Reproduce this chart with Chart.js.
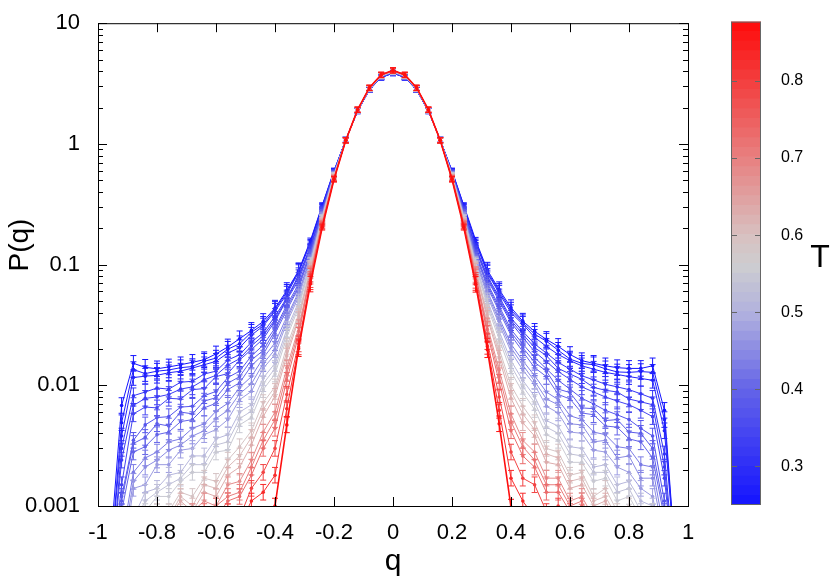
<!DOCTYPE html>
<html lang="en">
<head>
<meta charset="UTF-8">
<title>P(q) vs q</title>
<script src="https://cdn.jsdelivr.net/npm/chart.js"></script>
<style>
  body { margin: 0; background: #fff; }
  .wrap { position: relative; width: 830px; height: 583px; }
  #main { position: absolute; left: 0; top: 0; }
  #cbar { position: absolute; left: 700px; top: 0; }
</style>
</head>
<body>
<div class="wrap">
  <canvas id="main" width="830" height="583"></canvas>
  <canvas id="cbar" width="130" height="583"></canvas>
</div>
<script>
// overlap values q, one column per point
const qValues = [-0.96, -0.92, -0.88, -0.84, -0.80, -0.76, -0.72, -0.68, -0.64, -0.60, -0.56, -0.52, -0.48, -0.44, -0.40, -0.36, -0.32, -0.28, -0.24, -0.20, -0.16, -0.12, -0.08, -0.04,
  0, 0.04, 0.08, 0.12, 0.16, 0.20, 0.24, 0.28, 0.32, 0.36, 0.40, 0.44, 0.48, 0.52, 0.56, 0.60, 0.64, 0.68, 0.72, 0.76, 0.80, 0.84, 0.88, 0.92, 0.96];

const temperatures = [0.25, 0.265, 0.28, 0.31, 0.325, 0.34, 0.37, 0.385, 0.40, 0.43, 0.45, 0.47, 0.51, 0.53, 0.55, 0.59, 0.61, 0.63, 0.68, 0.705, 0.73, 0.79, 0.83, 0.87];

// P(q) for each temperature (null = below the plotted range)
const p250 = [0.0004, 0.0068, 0.0152, 0.0141, 0.0137, 0.0142, 0.0148, 0.0155, 0.0163, 0.0182, 0.0208, 0.0243, 0.0285, 0.0338, 0.0436, 0.061, 0.089, 0.158, 0.31, 0.6, 1.08, 1.87, 2.8, 3.55,
  3.85, 3.55, 2.8, 1.87, 1.08, 0.6, 0.31, 0.16, 0.09, 0.062, 0.044, 0.034, 0.028, 0.024, 0.021, 0.018, 0.016, 0.0152, 0.0145, 0.014, 0.0138, 0.0138, 0.0145, 0.0062, 0.0003];
const p265 = [0.0003, 0.0049, 0.0135, 0.0125, 0.0131, 0.0134, 0.014, 0.0143, 0.0158, 0.0168, 0.0199, 0.0221, 0.0275, 0.032, 0.0425, 0.059, 0.088, 0.154, 0.305, 0.595, 1.08, 1.87, 2.8, 3.55,
  3.86, 3.55, 2.8, 1.87, 1.08, 0.595, 0.305, 0.155, 0.087, 0.06, 0.042, 0.033, 0.0265, 0.0232, 0.0195, 0.0165, 0.0152, 0.0148, 0.0137, 0.0129, 0.0128, 0.013, 0.0128, 0.0052, 0.0003];
const p280 = [0.0003, 0.0038, 0.0116, 0.0119, 0.0121, 0.0127, 0.0131, 0.0139, 0.0148, 0.0158, 0.0185, 0.0205, 0.026, 0.031, 0.041, 0.057, 0.086, 0.15, 0.30, 0.59, 1.08, 1.87, 2.81, 3.56,
  3.87, 3.56, 2.81, 1.87, 1.08, 0.59, 0.30, 0.151, 0.085, 0.058, 0.040, 0.032, 0.025, 0.021, 0.018, 0.016, 0.0145, 0.0136, 0.0128, 0.0123, 0.0118, 0.0114, 0.011, 0.0042, 0.0003];
const p310 = [0.0002, 0.003, 0.0082, 0.0088, 0.0095, 0.0093, 0.0106, 0.0108, 0.0124, 0.0131, 0.0162, 0.0179, 0.0228, 0.0273, 0.0372, 0.053, 0.081, 0.141, 0.292, 0.585, 1.08, 1.88, 2.82, 3.58,
  3.88, 3.58, 2.82, 1.88, 1.08, 0.585, 0.292, 0.142, 0.08, 0.054, 0.036, 0.028, 0.022, 0.0185, 0.0155, 0.0136, 0.012, 0.0111, 0.0102, 0.0097, 0.0092, 0.0085, 0.0078, 0.0027, 0.0002];
const p325 = [0.0002, 0.0024, 0.0068, 0.0078, 0.008, 0.0084, 0.0093, 0.0097, 0.0111, 0.0121, 0.0147, 0.0166, 0.0212, 0.0258, 0.0352, 0.052, 0.078, 0.138, 0.288, 0.583, 1.08, 1.88, 2.82, 3.58,
  3.89, 3.58, 2.82, 1.88, 1.08, 0.583, 0.288, 0.138, 0.0775, 0.052, 0.0345, 0.0265, 0.0205, 0.0176, 0.0138, 0.0124, 0.0112, 0.0096, 0.0091, 0.0088, 0.0077, 0.0073, 0.0069, 0.0021, 0.0002];
const p340 = [0.0002, 0.0015, 0.0058, 0.0066, 0.0065, 0.0078, 0.0077, 0.0092, 0.0094, 0.0118, 0.0125, 0.0162, 0.0198, 0.0242, 0.034, 0.051, 0.074, 0.135, 0.283, 0.58, 1.08, 1.88, 2.83, 3.59,
  3.9, 3.59, 2.83, 1.88, 1.08, 0.58, 0.283, 0.134, 0.075, 0.05, 0.033, 0.025, 0.019, 0.0157, 0.013, 0.0112, 0.0097, 0.0088, 0.008, 0.0074, 0.0069, 0.0062, 0.0055, 0.0017, 0.0002];
const p370 = [0.0001, 0.0012, 0.0035, 0.0047, 0.0054, 0.0055, 0.0066, 0.0067, 0.0082, 0.0089, 0.0116, 0.0131, 0.0175, 0.0215, 0.0298, 0.046, 0.069, 0.127, 0.275, 0.57, 1.08, 1.89, 2.84, 3.61,
  3.92, 3.61, 2.84, 1.89, 1.08, 0.57, 0.275, 0.126, 0.07, 0.045, 0.029, 0.022, 0.017, 0.0137, 0.011, 0.0093, 0.0078, 0.007, 0.0062, 0.0057, 0.0052, 0.0044, 0.0038, 0.0011, 0.0001];
const p385 = [0.0001, 0.0011, 0.0033, 0.0037, 0.0048, 0.0046, 0.006, 0.0058, 0.0074, 0.0079, 0.0104, 0.0118, 0.0162, 0.0194, 0.0285, 0.044, 0.066, 0.124, 0.272, 0.568, 1.08, 1.89, 2.84, 3.61,
  3.92, 3.61, 2.84, 1.89, 1.08, 0.568, 0.272, 0.123, 0.0675, 0.043, 0.0275, 0.0205, 0.0155, 0.0131, 0.0093, 0.0087, 0.0065, 0.0064, 0.0051, 0.0052, 0.0041, 0.004, 0.003, 0.0009, 0.0001];
const p400 = [0.0001, 0.0009, 0.0028, 0.0031, 0.0039, 0.0041, 0.005, 0.0052, 0.0065, 0.0071, 0.0092, 0.0105, 0.0145, 0.018, 0.0268, 0.042, 0.064, 0.121, 0.268, 0.565, 1.08, 1.89, 2.84, 3.62,
  3.93, 3.62, 2.84, 1.89, 1.08, 0.565, 0.268, 0.12, 0.065, 0.041, 0.026, 0.019, 0.014, 0.0118, 0.0084, 0.0077, 0.0059, 0.0057, 0.0046, 0.0045, 0.0036, 0.0034, 0.0025, 0.0008, 0.0001];
const p430 = [null, 0.0005, 0.0019, 0.0025, 0.0028, 0.0034, 0.0036, 0.0044, 0.0048, 0.0061, 0.0071, 0.0096, 0.0118, 0.0168, 0.0225, 0.037, 0.059, 0.115, 0.261, 0.56, 1.08, 1.89, 2.85, 3.63,
  3.95, 3.63, 2.85, 1.89, 1.08, 0.56, 0.261, 0.114, 0.06, 0.036, 0.022, 0.016, 0.012, 0.0088, 0.0076, 0.0056, 0.0052, 0.0041, 0.0039, 0.0031, 0.003, 0.0022, 0.0021, 0.0006, null];
const p450 = [null, 0.0004, 0.0016, 0.0021, 0.0024, 0.0029, 0.0032, 0.0038, 0.0042, 0.0053, 0.0062, 0.0085, 0.0103, 0.0151, 0.0198, 0.035, 0.057, 0.112, 0.258, 0.558, 1.08, 1.9, 2.85, 3.64,
  3.955, 3.64, 2.85, 1.9, 1.08, 0.558, 0.258, 0.11, 0.0575, 0.034, 0.0205, 0.0147, 0.0108, 0.0077, 0.0069, 0.0048, 0.0047, 0.0034, 0.0035, 0.0025, 0.0026, 0.0017, 0.0017, 0.0005, null];
const p470 = [null, 0.0003, 0.0014, 0.0015, 0.0022, 0.0022, 0.0029, 0.003, 0.0039, 0.0043, 0.0052, 0.0076, 0.0089, 0.0138, 0.018, 0.033, 0.054, 0.108, 0.254, 0.555, 1.08, 1.9, 2.86, 3.65,
  3.96, 3.65, 2.86, 1.9, 1.08, 0.555, 0.254, 0.107, 0.055, 0.032, 0.019, 0.0134, 0.0101, 0.0067, 0.0059, 0.0041, 0.004, 0.0029, 0.0028, 0.0021, 0.0019, 0.0014, 0.0012, 0.0004, null];
const p510 = [null, 0.0004, 0.0008, 0.0013, 0.0014, 0.0018, 0.0019, 0.0026, 0.0026, 0.0036, 0.0039, 0.006, 0.0069, 0.0115, 0.0152, 0.029, 0.049, 0.103, 0.248, 0.55, 1.08, 1.9, 2.86, 3.66,
  3.98, 3.66, 2.86, 1.9, 1.08, 0.55, 0.248, 0.102, 0.05, 0.028, 0.016, 0.011, 0.0081, 0.0051, 0.0046, 0.0031, 0.003, 0.0021, 0.0022, 0.0015, 0.0016, 0.0011, 0.001, 0.0003, null];
const p530 = [null, 0.0003, 0.0007, 0.0011, 0.0013, 0.0015, 0.0017, 0.0022, 0.0022, 0.0032, 0.0034, 0.0053, 0.0061, 0.0103, 0.0138, 0.027, 0.0465, 0.1, 0.245, 0.548, 1.075, 1.9, 2.865, 3.665,
  3.985, 3.665, 2.865, 1.9, 1.075, 0.548, 0.245, 0.0995, 0.0475, 0.026, 0.0145, 0.0098, 0.0072, 0.0045, 0.004, 0.0027, 0.0026, 0.0019, 0.0019, 0.0013, 0.0014, 0.0009, 0.0009, 0.0003, null];
const p550 = [null, null, 0.0006, 0.0009, 0.0012, 0.0012, 0.0016, 0.0019, 0.0019, 0.0028, 0.0029, 0.0047, 0.0054, 0.0092, 0.0124, 0.025, 0.044, 0.098, 0.242, 0.545, 1.07, 1.9, 2.87, 3.67,
  3.99, 3.67, 2.87, 1.9, 1.07, 0.545, 0.242, 0.097, 0.045, 0.024, 0.013, 0.0087, 0.0063, 0.0039, 0.0035, 0.0023, 0.0023, 0.0016, 0.0017, 0.0011, 0.0012, 0.0008, 0.0009, 0.0004, null];
const p590 = [null, null, null, 0.0007, 0.0009, 0.0009, 0.0013, 0.0012, 0.0017, 0.0016, 0.0024, 0.0031, 0.0042, 0.0072, 0.0097, 0.021, 0.039, 0.093, 0.235, 0.54, 1.07, 1.91, 2.88, 3.68,
  4.0, 3.68, 2.88, 1.91, 1.07, 0.54, 0.235, 0.092, 0.04, 0.02, 0.01, 0.0067, 0.0049, 0.003, 0.0028, 0.0018, 0.0019, 0.0012, 0.0014, 0.0009, 0.001, 0.0006, null, null, null];
const p610 = [null, null, null, null, 0.0007, 0.0008, 0.0012, 0.001, 0.0015, 0.0014, 0.0021, 0.0026, 0.0037, 0.0063, 0.0089, 0.019, 0.037, 0.091, 0.232, 0.535, 1.07, 1.91, 2.885, 3.69,
  4.01, 3.69, 2.885, 1.91, 1.07, 0.535, 0.232, 0.09, 0.038, 0.0183, 0.0089, 0.0058, 0.0043, 0.0027, 0.0025, 0.0016, 0.0017, 0.0011, 0.0012, 0.0008, 0.0008, null, null, null, null];
const p630 = [null, null, null, null, null, 0.0008, 0.0011, 0.0009, 0.0013, 0.0012, 0.0018, 0.0021, 0.0032, 0.0055, 0.0081, 0.0175, 0.035, 0.089, 0.229, 0.53, 1.07, 1.91, 2.89, 3.7,
  4.02, 3.7, 2.89, 1.91, 1.07, 0.53, 0.229, 0.088, 0.036, 0.0168, 0.0078, 0.0049, 0.0038, 0.0023, 0.0022, 0.0014, 0.0015, 0.001, 0.0011, 0.0007, null, null, null, null, null];
const p680 = [null, null, null, null, null, null, 0.0007, 0.0009, 0.0011, 0.001, 0.0015, 0.0016, 0.0024, 0.0041, 0.006, 0.0139, 0.030, 0.084, 0.223, 0.525, 1.07, 1.91, 2.9, 3.71,
  4.03, 3.71, 2.9, 1.91, 1.07, 0.525, 0.223, 0.083, 0.031, 0.0134, 0.0058, 0.0035, 0.0028, 0.0017, 0.0017, 0.0011, 0.0012, 0.0008, null, null, null, null, null, null, null];
const p705 = [null, null, null, null, null, null, null, 0.0008, 0.0007, 0.001, 0.0012, 0.0013, 0.0021, 0.0035, 0.0052, 0.0125, 0.028, 0.082, 0.22, 0.522, 1.07, 1.915, 2.905, 3.715,
  4.035, 3.715, 2.905, 1.915, 1.07, 0.522, 0.22, 0.081, 0.029, 0.012, 0.005, 0.0031, 0.0024, 0.0015, 0.0015, 0.001, 0.0011, 0.0007, null, null, null, null, null, null, null];
const p730 = [null, null, null, null, null, null, null, 0.0007, 0.0009, 0.0008, 0.0011, 0.0012, 0.0018, 0.003, 0.0044, 0.011, 0.026, 0.08, 0.217, 0.52, 1.07, 1.92, 2.91, 3.72,
  4.04, 3.72, 2.91, 1.92, 1.07, 0.52, 0.217, 0.079, 0.027, 0.0106, 0.0042, 0.0026, 0.0021, 0.0013, 0.0013, 0.0009, 0.001, 0.0006, null, null, null, null, null, null, null];
const p790 = [null, null, null, null, null, null, null, null, null, 0.0006, 0.0009, 0.0008, 0.0014, 0.0019, 0.003, 0.0084, 0.022, 0.075, 0.211, 0.515, 1.07, 1.92, 2.91, 3.73,
  4.05, 3.73, 2.91, 1.92, 1.07, 0.515, 0.211, 0.074, 0.023, 0.008, 0.0028, 0.0017, 0.0015, 0.0009, 0.001, 0.0006, null, null, null, null, null, null, null, null, null];
const p830 = [null, null, null, null, null, null, null, null, null, null, null, 0.0007, 0.0011, 0.0013, 0.0018, 0.0064, 0.0208, 0.072, 0.207, 0.511, 1.07, 1.92, 2.915, 3.735,
  4.06, 3.735, 2.915, 1.92, 1.07, 0.511, 0.207, 0.071, 0.021, 0.0062, 0.0017, 0.0011, 0.0008, null, null, null, null, null, null, null, null, null, null, null, null];
const p870 = [null, null, null, null, null, null, null, null, null, null, null, null, null, 0.00018, 0.001, 0.0047, 0.0201, 0.069, 0.203, 0.507, 1.07, 1.92, 2.92, 3.74,
  4.07, 3.74, 2.92, 1.92, 1.07, 0.507, 0.203, 0.0686, 0.0197, 0.0048, 0.00098, 0.00017, null, null, null, null, null, null, null, null, null, null, null, null, null];

const series = [p250, p265, p280, p310, p325, p340, p370, p385, p400, p430, p450, p470, p510, p530, p550, p590, p610, p630, p680, p705, p730, p790, p830, p870];

const yTicks = [0.001, 0.01, 0.1, 1, 10];
const cbTicks = [0.3, 0.4, 0.5, 0.6, 0.7, 0.8];
const cbMin = 0.25, cbMax = 0.877;

const FONT = '"Liberation Sans", Arial, Helvetica, sans-serif';

// blue - grey - red palette, [T, r, g, b]
const colorStops = [
  [0.25, 20, 20, 255],
  [0.40, 100, 100, 232],
  [0.50, 178, 178, 222],
  [0.56, 205, 205, 208],
  [0.60, 216, 192, 192],
  [0.70, 232, 128, 128],
  [0.80, 243, 62, 62],
  [0.877, 255, 10, 10]
];
function tColor(t) {
  let i = 0;
  while (i < colorStops.length - 2 && t > colorStops[i + 1][0]) i++;
  const a = colorStops[i], b = colorStops[i + 1];
  let f = (t - a[0]) / (b[0] - a[0]);
  f = Math.max(0, Math.min(1, f));
  const c = [1, 2, 3].map(k => Math.round(a[k] + f * (b[k] - a[k])));
  return `rgb(${c[0]},${c[1]},${c[2]})`;
}

// error bars, drawn with each dataset so the layering follows the lines
const errorBars = {
  id: 'errorBars',
  afterDatasetDraw(chart, args) {
    const { ctx, chartArea } = chart;
    const ys = chart.scales.y;
    const ds = chart.data.datasets[args.index];
    ctx.save();
    ctx.beginPath();
    ctx.rect(chartArea.left, chartArea.top, chartArea.right - chartArea.left, chartArea.bottom - chartArea.top);
    ctx.clip();
    ctx.strokeStyle = ds.borderColor;
    ctx.lineWidth = 1;
    ctx.beginPath();
    args.meta.data.forEach((pt, j) => {
      const v = ds.data[j].y;
      if (v == null || v < 0.0008) return;
      const rel = v >= 0.1 ? 0.05 : 0.16;
      const y1 = ys.getPixelForValue(v * (1 + rel));
      const y2 = ys.getPixelForValue(v / (1 + rel));
      ctx.moveTo(pt.x, y1); ctx.lineTo(pt.x, y2);
      ctx.moveTo(pt.x - 3, y1); ctx.lineTo(pt.x + 3, y1);
      ctx.moveTo(pt.x - 3, y2); ctx.lineTo(pt.x + 3, y2);
    });
    ctx.stroke();
    ctx.restore();
  }
};

// frame, inward ticks (mirrored) and axis titles
const frame = {
  id: 'frame',
  afterDraw(chart) {
    const { ctx, chartArea: a } = chart;
    const xs = chart.scales.x, ys = chart.scales.y;
    ctx.save();
    ctx.strokeStyle = '#000';
    ctx.lineWidth = 1;
    ctx.strokeRect(a.left + 0.5, a.top + 0.5, a.right - a.left, a.bottom - a.top);
    ctx.beginPath();
    for (let d = -3; d <= 1; d++) {
      for (let m = 1; m <= 9; m++) {
        const v = m * Math.pow(10, d);
        if (v < 0.001 || v > 10) continue;
        const y = Math.round(ys.getPixelForValue(v)) + 0.5;
        const len = m === 1 ? 9 : 5;
        ctx.moveTo(a.left, y); ctx.lineTo(a.left + len, y);
        ctx.moveTo(a.right, y); ctx.lineTo(a.right - len, y);
      }
    }
    for (let k = -5; k <= 5; k++) {
      const x = Math.round(xs.getPixelForValue(k * 0.2)) + 0.5;
      ctx.moveTo(x, a.bottom); ctx.lineTo(x, a.bottom - 9);
      ctx.moveTo(x, a.top); ctx.lineTo(x, a.top + 9);
    }
    ctx.stroke();
    ctx.fillStyle = '#000';
    ctx.textAlign = 'center';
    ctx.textBaseline = 'middle';
    ctx.font = '30px ' + FONT;
    ctx.fillText('q', (a.left + a.right) / 2, 562);
    ctx.translate(20, 245);
    ctx.rotate(-Math.PI / 2);
    ctx.font = '28px ' + FONT;
    ctx.fillText('P(q)', 0, 0);
    ctx.restore();
  }
};

const datasets = temperatures.map((t, i) => ({
  label: 'T = ' + t,
  data: qValues.map((q, j) => ({ x: q, y: series[i][j] })),
  borderColor: tColor(t),
  backgroundColor: tColor(t),
  pointBackgroundColor: tColor(t),
  borderWidth: i === temperatures.length - 1 ? 1.6 : 1,
  pointRadius: 1.8,
  pointBorderWidth: 0,
  spanGaps: false,
  tension: 0,
  clip: 0,
  order: temperatures.length - 1 - i
}));

new Chart(document.getElementById('main'), {
  type: 'line',
  data: { datasets },
  options: {
    responsive: false,
    animation: false,
    events: [],
    layout: { padding: { left: 0, top: 10, right: 142, bottom: 0 } },
    plugins: { legend: { display: false }, tooltip: { enabled: false } },
    scales: {
      x: {
        type: 'linear', min: -1, max: 1,
        ticks: { stepSize: 0.2, autoSkip: false, maxRotation: 0, padding: 6, color: '#000',
          font: { size: 22, family: FONT }, callback: v => String(Math.round(v * 10) / 10) },
        grid: { display: false }, border: { display: false },
        afterFit: s => { s.height = 77; }
      },
      y: {
        type: 'logarithmic', min: 0.001, max: 10,
        afterBuildTicks: s => { s.ticks = yTicks.map(v => ({ value: v })); },
        ticks: { padding: 10, color: '#000', font: { size: 22, family: FONT }, callback: v => String(v) },
        grid: { display: false }, border: { display: false },
        afterFit: s => { s.width = 98; }
      }
    }
  },
  plugins: [errorBars, frame]
});

// colour bar
const stripeCount = 50;
const stripes = [];
for (let i = 0; i < stripeCount; i++) {
  const lo = cbMin + i * (cbMax - cbMin) / stripeCount;
  const hi = lo + (cbMax - cbMin) / stripeCount;
  stripes.push({ data: [[lo, hi]], backgroundColor: tColor((lo + hi) / 2), borderWidth: 0,
    grouped: false, barPercentage: 1, categoryPercentage: 1 });
}

const cbarDecor = {
  id: 'cbarDecor',
  afterDraw(chart) {
    const { ctx, chartArea: a } = chart;
    const ys = chart.scales.y;
    ctx.save();
    ctx.strokeStyle = '#666';
    ctx.lineWidth = 1;
    ctx.strokeRect(a.left + 0.5, a.top + 0.5, a.right - a.left - 1, a.bottom - a.top - 1);
    ctx.beginPath();
    cbTicks.forEach(v => {
      const y = Math.round(ys.getPixelForValue(v)) + 0.5;
      ctx.moveTo(a.left, y); ctx.lineTo(a.left + 6, y);
      ctx.moveTo(a.right, y); ctx.lineTo(a.right - 6, y);
    });
    ctx.stroke();
    ctx.fillStyle = '#000';
    ctx.font = '32px ' + FONT;
    ctx.textAlign = 'center';
    ctx.textBaseline = 'middle';
    ctx.fillText('T', 120, 258);
    ctx.restore();
  }
};

new Chart(document.getElementById('cbar'), {
  type: 'bar',
  data: { labels: ['T'], datasets: stripes },
  options: {
    responsive: false,
    animation: false,
    events: [],
    layout: { padding: { left: 31, top: 8, bottom: 78, right: 0 } },
    plugins: { legend: { display: false }, tooltip: { enabled: false } },
    scales: {
      x: { display: false },
      y: {
        position: 'right', min: cbMin, max: cbMax,
        afterBuildTicks: s => { s.ticks = cbTicks.map(v => ({ value: v })); },
        ticks: { padding: 12, color: '#000', font: { size: 16, family: FONT }, callback: v => v.toFixed(1) },
        grid: { display: false }, border: { display: false },
        afterFit: s => { s.width = 69; }
      }
    }
  },
  plugins: [cbarDecor]
});
</script>
</body>
</html>
